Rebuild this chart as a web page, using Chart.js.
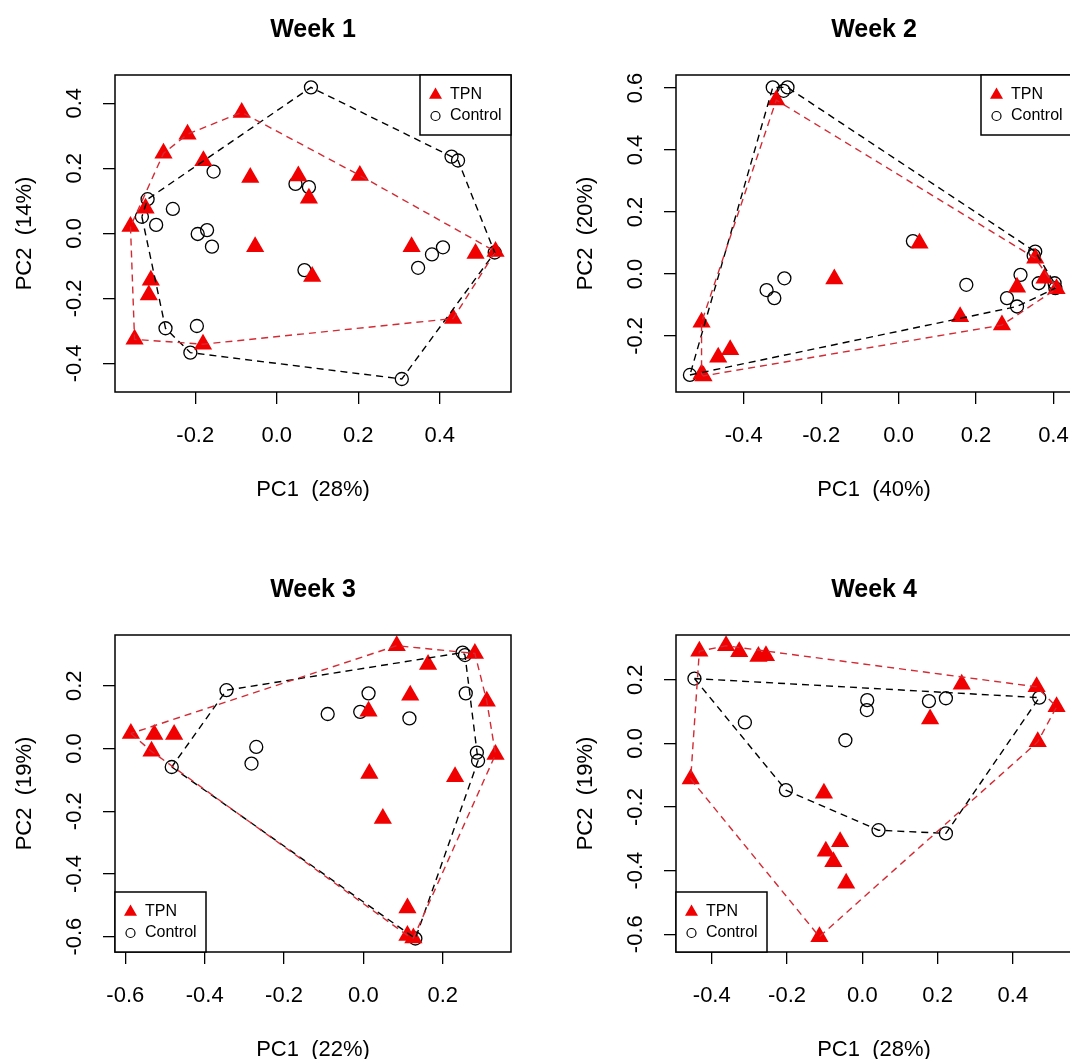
<!DOCTYPE html>
<html lang="en">
  <head>
    <meta charset="UTF-8" />
    <title>PCA by week: TPN vs Control</title>
    <script src="https://cdn.jsdelivr.net/npm/chart.js"></script>
    <style>
      html,
      body {
        margin: 0;
        padding: 0;
        background: #fff;
        overflow: hidden;
      }
      #page {
        position: relative;
        width: 1070px;
        height: 1059px;
        overflow: hidden;
        background: #fff;
      }
      #page canvas {
        position: absolute;
      }
    </style>
  </head>
  <body>
    <div id="page">
      <canvas id="week1" width="535" height="530" style="left: 0; top: 0"></canvas>
      <canvas id="week2" width="535" height="530" style="left: 561px; top: 0"></canvas>
      <canvas id="week3" width="535" height="530" style="left: 0; top: 560px"></canvas>
      <canvas id="week4" width="535" height="530" style="left: 561px; top: 560px"></canvas>
    </div>

    <script>
      // PC1 / PC2 scores, [x, y] per sample
      const week1Tpn = [
        [-0.086, 0.372], [-0.219, 0.305], [-0.278, 0.246], [-0.18, 0.223],
        [-0.065, 0.172], [0.053, 0.176], [0.079, 0.108], [0.204, 0.178],
        [-0.322, 0.077], [-0.359, 0.021], [-0.053, -0.041], [0.331, -0.041],
        [0.488, -0.062], [0.537, -0.056], [0.087, -0.133], [-0.309, -0.144],
        [-0.314, -0.19], [-0.349, -0.326], [-0.181, -0.341], [0.433, -0.262],
      ];
      const week1Control = [
        [0.084, 0.449], [0.429, 0.236], [0.445, 0.224], [-0.155, 0.19],
        [0.046, 0.152], [0.079, 0.142], [-0.317, 0.105], [-0.255, 0.075],
        [-0.331, 0.051], [-0.296, 0.026], [-0.194, -0.002], [-0.171, 0.01],
        [-0.159, -0.041], [0.408, -0.043], [0.381, -0.065], [0.347, -0.106],
        [0.535, -0.059], [0.068, -0.113], [-0.273, -0.292], [-0.196, -0.285],
        [-0.212, -0.367], [0.307, -0.448],
      ];
      const week2Tpn = [
        [-0.316, 0.561], [0.054, 0.099], [-0.166, -0.016], [-0.509, -0.156],
        [-0.466, -0.269], [-0.435, -0.245], [-0.509, -0.323], [-0.504, -0.329],
        [0.159, -0.138], [0.267, -0.165], [0.306, -0.043], [0.353, 0.051],
        [0.377, -0.014], [0.408, -0.048],
      ];
      const week2Control = [
        [-0.325, 0.602], [-0.287, 0.602], [-0.297, 0.591], [0.037, 0.106],
        [-0.295, -0.014], [-0.341, -0.052], [-0.321, -0.078], [0.175, -0.035],
        [0.353, 0.072], [0.349, 0.059], [0.315, -0.003], [0.362, -0.03],
        [0.403, -0.03], [0.405, -0.046], [0.28, -0.078], [0.306, -0.105],
        [-0.539, -0.326],
      ];
      const week3Tpn = [
        [0.084, 0.328], [0.281, 0.303], [0.163, 0.268], [0.118, 0.17],
        [0.311, 0.151], [0.013, 0.119], [-0.586, 0.048], [-0.527, 0.045],
        [-0.477, 0.045], [-0.534, -0.009], [0.333, -0.019], [0.015, -0.08],
        [0.231, -0.09], [0.049, -0.223], [0.111, -0.509], [0.111, -0.596],
        [0.126, -0.604],
      ];
      const week3Control = [
        [0.25, 0.306], [0.256, 0.298], [-0.345, 0.186], [0.013, 0.176],
        [0.258, 0.176], [-0.09, 0.11], [-0.008, 0.117], [0.116, 0.096],
        [-0.27, 0.005], [-0.282, -0.048], [-0.483, -0.059], [0.286, -0.013],
        [0.289, -0.039], [0.131, -0.606],
      ];
      const week4Tpn = [
        [-0.433, 0.29], [-0.362, 0.307], [-0.327, 0.288], [-0.276, 0.273],
        [-0.256, 0.276], [0.264, 0.186], [0.463, 0.178], [0.516, 0.115],
        [0.18, 0.077], [0.466, 0.005], [-0.456, -0.112], [-0.102, -0.157],
        [-0.059, -0.309], [-0.097, -0.339], [-0.077, -0.372], [-0.043, -0.44],
        [-0.114, -0.608],
      ];
      const week4Control = [
        [-0.446, 0.204], [0.013, 0.136], [0.012, 0.105], [0.177, 0.133],
        [0.222, 0.142], [0.47, 0.144], [-0.312, 0.066], [-0.045, 0.01],
        [-0.203, -0.147], [0.043, -0.273], [0.222, -0.283],
      ];

      const titles = ["Week 1", "Week 2", "Week 3", "Week 4"];
      const xLabels = ["PC1  (28%)", "PC1  (40%)", "PC1  (22%)", "PC1  (28%)"];
      const yLabels = ["PC2  (14%)", "PC2  (20%)", "PC2  (19%)", "PC2  (19%)"];

      const xTicks = [
        [-0.2, 0, 0.2, 0.4],
        [-0.4, -0.2, 0, 0.2, 0.4],
        [-0.6, -0.4, -0.2, 0, 0.2],
        [-0.4, -0.2, 0, 0.2, 0.4],
      ];
      const yTicks = [
        [-0.4, -0.2, 0, 0.2, 0.4],
        [-0.2, 0, 0.2, 0.4, 0.6],
        [-0.6, -0.4, -0.2, 0, 0.2],
        [-0.6, -0.4, -0.2, 0, 0.2],
      ];
      const xLimits = [[-0.397, 0.575], [-0.575, 0.448], [-0.626, 0.372], [-0.495, 0.557]];
      const yLimits = [[-0.488, 0.487], [-0.381, 0.642], [-0.649, 0.362], [-0.656, 0.341]];
      const legendCorner = ["topright", "topright", "bottomleft", "bottomleft"];

      const tpnSets = [week1Tpn, week2Tpn, week3Tpn, week4Tpn];
      const controlSets = [week1Control, week2Control, week3Control, week4Control];

      const FONT = '"Liberation Sans", Arial, sans-serif';
      const LABEL_SIZE = 22;
      const TPN_RED = "#f00000";
      const HULL_RED = "#d42a33";

      // convex hull (monotone chain), closed so the line returns to its start
      function hull(pts) {
        const p = pts.slice().sort((a, b) => a[0] - b[0] || a[1] - b[1]);
        const cross = (o, a, b) =>
          (a[0] - o[0]) * (b[1] - o[1]) - (a[1] - o[1]) * (b[0] - o[0]);
        const lower = [];
        for (const q of p) {
          while (lower.length >= 2 && cross(lower[lower.length - 2], lower[lower.length - 1], q) <= 0) lower.pop();
          lower.push(q);
        }
        const upper = [];
        for (const q of p.slice().reverse()) {
          while (upper.length >= 2 && cross(upper[upper.length - 2], upper[upper.length - 1], q) <= 0) upper.pop();
          upper.push(q);
        }
        const h = lower.slice(0, -1).concat(upper.slice(0, -1));
        h.push(h[0]);
        return h.map(([x, y]) => ({ x, y }));
      }

      const toXY = (pts) => pts.map(([x, y]) => ({ x, y }));

      // frame box, rotated y tick labels and the boxed legend
      const panelDecor = {
        id: "panelDecor",
        afterDraw(chart, args, opts) {
          const { ctx, chartArea: a } = chart;
          const y = chart.scales.y;
          ctx.save();
          ctx.strokeStyle = "#000";
          ctx.lineWidth = 1.5;
          ctx.strokeRect(a.left, a.top, a.right - a.left, a.bottom - a.top);

          ctx.fillStyle = "#000";
          ctx.font = LABEL_SIZE + "px " + FONT;
          ctx.textAlign = "center";
          ctx.textBaseline = "middle";
          for (const v of opts.yTicks) {
            ctx.save();
            ctx.translate(a.left - 40, y.getPixelForValue(v));
            ctx.rotate(-Math.PI / 2);
            ctx.fillText(v.toFixed(1), 0, 0);
            ctx.restore();
          }

          const w = 91, h = 60;
          const lx = opts.corner === "topright" ? a.right - w : a.left;
          const ly = opts.corner === "topright" ? a.top : a.bottom - h;
          ctx.fillStyle = "#fff";
          ctx.fillRect(lx, ly, w, h);
          ctx.strokeRect(lx, ly, w, h);

          const sx = lx + 15.5;
          const r = 7.5;
          ctx.fillStyle = TPN_RED;
          ctx.beginPath();
          ctx.moveTo(sx, ly + 20 - r);
          ctx.lineTo(sx + r * 0.866, ly + 20 + r / 2);
          ctx.lineTo(sx - r * 0.866, ly + 20 + r / 2);
          ctx.closePath();
          ctx.fill();

          ctx.strokeStyle = "#000";
          ctx.lineWidth = 1.2;
          ctx.beginPath();
          ctx.arc(sx, ly + 41, 4.5, 0, Math.PI * 2);
          ctx.stroke();

          ctx.fillStyle = "#000";
          ctx.font = "16px " + FONT;
          ctx.textAlign = "left";
          ctx.fillText("TPN", lx + 30, ly + 20);
          ctx.fillText("Control", lx + 30, ly + 41);
          ctx.restore();
        },
      };

      function makePanel(i) {
        const tpn = tpnSets[i];
        const control = controlSets[i];
        const ctx = document.getElementById("week" + (i + 1)).getContext("2d");

        new Chart(ctx, {
          type: "scatter",
          data: {
            datasets: [
              {
                label: "TPN hull",
                data: hull(tpn),
                showLine: true,
                fill: false,
                borderColor: HULL_RED,
                borderWidth: 1.4,
                borderDash: [7, 5],
                pointRadius: 0,
                order: 0,
              },
              {
                label: "Control hull",
                data: hull(control),
                showLine: true,
                fill: false,
                borderColor: "#000",
                borderWidth: 1.4,
                borderDash: [7, 5],
                pointRadius: 0,
                order: 0,
              },
              {
                label: "TPN",
                data: toXY(tpn),
                pointStyle: "triangle",
                pointRadius: 10.5,
                backgroundColor: TPN_RED,
                borderColor: TPN_RED,
                borderWidth: 0,
                order: 1,
              },
              {
                label: "Control",
                data: toXY(control),
                pointStyle: "circle",
                pointRadius: 6.5,
                backgroundColor: "rgba(0,0,0,0)",
                borderColor: "#000",
                borderWidth: 1.3,
                order: 1,
              },
            ],
          },
          options: {
            responsive: false,
            animation: false,
            events: [],
            layout: { padding: { left: 0, right: 24, top: 0, bottom: 0 } },
            plugins: {
              legend: { display: false },
              tooltip: { enabled: false },
              title: {
                display: true,
                text: titles[i],
                color: "#000",
                fullSize: false,
                font: { family: FONT, size: 25, weight: "bold", lineHeight: 1.2 },
                padding: { top: 15, bottom: 30 },
              },
              panelDecor: { yTicks: yTicks[i], corner: legendCorner[i] },
            },
            scales: {
              x: {
                type: "linear",
                min: xLimits[i][0],
                max: xLimits[i][1],
                afterBuildTicks: (s) => {
                  s.ticks = xTicks[i].map((v) => ({ value: v }));
                },
                afterFit: (s) => {
                  s.height = 138;
                },
                ticks: {
                  padding: 19,
                  color: "#000",
                  autoSkip: false,
                  maxRotation: 0,
                  font: { family: FONT, size: LABEL_SIZE },
                  callback: (v) => Number(v).toFixed(1),
                },
                grid: { drawOnChartArea: false, tickLength: 12, color: "#000", lineWidth: 1.3 },
                border: { display: false },
                title: {
                  display: true,
                  text: xLabels[i],
                  color: "#000",
                  font: { family: FONT, size: LABEL_SIZE },
                  padding: { top: 0, bottom: 27 },
                },
              },
              y: {
                type: "linear",
                min: yLimits[i][0],
                max: yLimits[i][1],
                afterBuildTicks: (s) => {
                  s.ticks = yTicks[i].map((v) => ({ value: v }));
                },
                afterFit: (s) => {
                  s.width = 115;
                },
                ticks: { display: false },
                grid: { drawOnChartArea: false, tickLength: 12, color: "#000", lineWidth: 1.3 },
                border: { display: false },
                title: {
                  display: true,
                  text: yLabels[i],
                  color: "#000",
                  font: { family: FONT, size: LABEL_SIZE },
                  padding: { top: 12, bottom: 0 },
                },
              },
            },
          },
          plugins: [panelDecor],
        });
      }

      window.onload = function () {
        for (let i = 0; i < 4; i++) makePanel(i);
      };
    </script>
  </body>
</html>
